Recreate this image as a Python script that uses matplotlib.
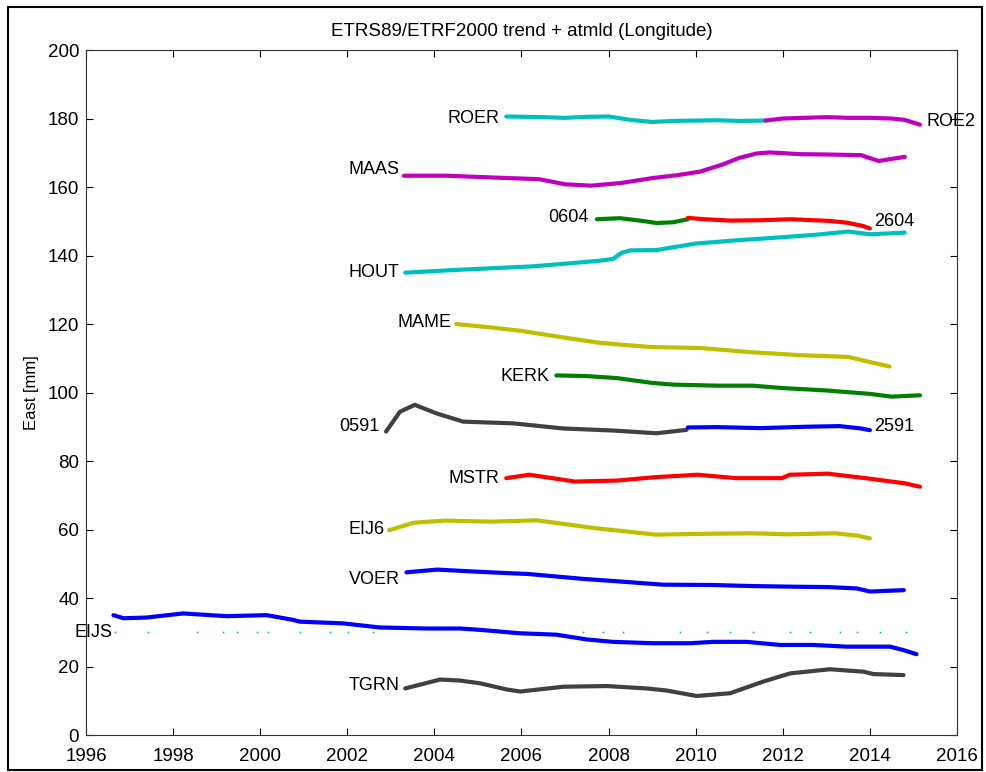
import matplotlib
matplotlib.use('Agg')
import matplotlib.pyplot as plt
from matplotlib.patches import Rectangle

# MATLAB style colour order
BLUE = '#0000ff'
GREEN = '#008000'
RED = '#ff0000'
CYAN = '#00bfbf'
MAGENTA = '#bf00bf'
OLIVE = '#bfbf00'
GREY = '#404040'

# Station series (decimal year, east in mm)

roer_t = [2005.65, 2006.5, 2007.0, 2007.5, 2008.0, 2008.5, 2009.0, 2009.5, 2010.0, 2010.5, 2011.0, 2011.6]
roer_v = [180.6, 180.4, 180.2, 180.5, 180.6, 179.6, 179.0, 179.3, 179.4, 179.5, 179.3, 179.4]

roe2_t = [2011.6, 2012.0, 2012.5, 2013.0, 2013.5, 2014.0, 2014.5, 2014.8, 2015.15]
roe2_v = [179.4, 180.0, 180.2, 180.4, 180.2, 180.2, 180.0, 179.6, 178.2]

maas_t = [2003.3, 2004.3, 2005.5, 2006.4, 2007.0, 2007.6, 2008.3, 2009.0, 2009.6, 2010.1,
          2010.6, 2011.0, 2011.4, 2011.7, 2012.4, 2013.0, 2013.8, 2014.2, 2014.8]
maas_v = [163.3, 163.3, 162.7, 162.3, 160.8, 160.4, 161.2, 162.6, 163.5, 164.5,
          166.5, 168.5, 169.8, 170.1, 169.6, 169.5, 169.3, 167.6, 168.8]

s0604_t = [2007.73, 2008.26, 2008.72, 2009.1, 2009.48, 2009.82]
s0604_v = [150.6, 150.9, 150.2, 149.5, 149.7, 150.6]

s2604_t = [2009.82, 2010.2, 2010.79, 2011.5, 2012.17, 2013.08, 2013.47, 2013.85, 2014.0]
s2604_v = [151.0, 150.6, 150.2, 150.3, 150.6, 150.1, 149.6, 148.6, 147.9]

hout_t = [2003.33, 2004.5, 2005.5, 2006.2, 2007.0, 2007.8, 2008.1, 2008.3, 2008.5, 2009.1,
          2010.0, 2011.0, 2011.6, 2012.7, 2013.5, 2014.0, 2014.8]
hout_v = [135.0, 135.8, 136.4, 136.8, 137.6, 138.5, 139.0, 140.8, 141.5, 141.6,
          143.5, 144.5, 145.0, 146.0, 147.0, 146.2, 146.7]

mame_t = [2004.5, 2005.3, 2006.0, 2006.9, 2007.8, 2008.95, 2010.1, 2011.25, 2012.4, 2013.5, 2014.0, 2014.45]
mame_v = [120.0, 119.0, 118.0, 116.2, 114.5, 113.3, 113.0, 111.8, 110.9, 110.4, 108.9, 107.6]

kerk_t = [2006.8, 2007.5, 2008.2, 2009.0, 2009.5, 2010.5, 2011.3, 2012.0, 2013.0, 2014.0, 2014.5, 2015.15]
kerk_v = [105.0, 104.8, 104.2, 102.8, 102.3, 102.0, 102.0, 101.3, 100.6, 99.6, 98.8, 99.2]

s0591_t = [2002.89, 2003.21, 2003.55, 2004.05, 2004.66, 2005.81, 2006.96, 2008.11, 2009.1, 2009.79]
s0591_v = [88.6, 94.4, 96.4, 93.9, 91.5, 91.0, 89.5, 88.9, 88.1, 89.1]

s2591_t = [2009.82, 2010.5, 2011.5, 2012.5, 2013.3, 2013.8, 2014.0]
s2591_v = [89.8, 89.9, 89.6, 90.0, 90.2, 89.5, 89.0]

mstr_t = [2005.65, 2006.18, 2007.23, 2008.2, 2009.08, 2010.05, 2010.93, 2011.98, 2012.16,
          2013.04, 2013.9, 2014.8, 2015.15]
mstr_v = [75.0, 76.0, 74.0, 74.3, 75.3, 76.0, 75.0, 75.0, 76.0, 76.3, 75.0, 73.5, 72.5]

eij6_t = [2002.96, 2003.53, 2004.24, 2005.3, 2006.35, 2006.87, 2007.75, 2008.29, 2009.08,
          2009.95, 2011.27, 2012.14, 2013.2, 2013.73, 2014.0]
eij6_v = [59.8, 62.0, 62.6, 62.3, 62.7, 61.8, 60.3, 59.6, 58.5, 58.7, 58.9, 58.6, 58.9, 58.2, 57.4]

voer_t = [2003.36, 2004.06, 2005.12, 2006.17, 2007.4, 2008.29, 2009.25, 2010.39, 2011.27,
          2012.3, 2013.04, 2013.7, 2014.0, 2014.78]
voer_v = [47.5, 48.3, 47.6, 47.0, 45.6, 44.8, 43.9, 43.8, 43.5, 43.3, 43.2, 42.8, 41.9, 42.3]

eijs_t = [1996.63, 1996.86, 1997.39, 1998.23, 1999.23, 2000.15, 2000.76, 2000.91, 2001.9,
          2002.75, 2003.82, 2004.59, 2005.05, 2005.97, 2006.8, 2007.5, 2008.1, 2009.03,
          2009.87, 2010.4, 2011.17, 2011.94, 2012.7, 2013.47, 2014.46, 2014.77, 2015.07]
eijs_v = [35.0, 34.1, 34.3, 35.5, 34.7, 35.0, 33.6, 33.1, 32.6,
          31.4, 31.1, 31.1, 30.7, 29.7, 29.3, 27.9, 27.2, 26.8,
          26.8, 27.2, 27.2, 26.3, 26.3, 25.8, 25.8, 24.8, 23.6]

# sparse outlier dots under EIJS
eijs_dots_t = [1996.67, 1997.43, 1998.54, 1999.15, 1999.46, 1999.92, 2000.19, 2000.91, 2001.6,
               2002.02, 2002.6, 2007.42, 2007.88, 2008.34, 2009.64, 2010.25, 2010.79, 2011.32,
               2012.17, 2012.62, 2013.31, 2013.7, 2014.23, 2014.84]
eijs_dots_v = [30.1] * len(eijs_dots_t)

tgrn_t = [2003.33, 2004.13, 2004.59, 2005.05, 2005.66, 2005.97, 2006.96, 2007.96, 2008.87,
          2009.33, 2010.02, 2010.79, 2011.55, 2012.17, 2013.08, 2013.85, 2014.08, 2014.77]
tgrn_v = [13.6, 16.2, 15.9, 15.1, 13.3, 12.7, 14.1, 14.3, 13.6,
          13.0, 11.4, 12.2, 15.6, 18.0, 19.2, 18.5, 17.8, 17.5]

series = [
    (roer_t, roer_v, CYAN), (roe2_t, roe2_v, MAGENTA), (maas_t, maas_v, MAGENTA),
    (s0604_t, s0604_v, GREEN), (s2604_t, s2604_v, RED), (hout_t, hout_v, CYAN),
    (mame_t, mame_v, OLIVE), (kerk_t, kerk_v, GREEN), (s0591_t, s0591_v, GREY),
    (s2591_t, s2591_v, BLUE), (mstr_t, mstr_v, RED), (eij6_t, eij6_v, OLIVE),
    (voer_t, voer_v, BLUE), (eijs_t, eijs_v, BLUE), (tgrn_t, tgrn_v, GREY),
]

# station names: (name, x, y, alignment)
labels = [
    ('ROER', 2005.5, 180.0, 'right'), ('ROE2', 2015.3, 179.0, 'left'),
    ('MAAS', 2003.2, 165.0, 'right'), ('0604', 2007.55, 151.0, 'right'),
    ('2604', 2014.1, 150.0, 'left'), ('HOUT', 2003.2, 135.0, 'right'),
    ('MAME', 2004.4, 120.3, 'right'), ('KERK', 2006.65, 104.8, 'right'),
    ('0591', 2002.75, 90.0, 'right'), ('2591', 2014.1, 90.0, 'left'),
    ('MSTR', 2005.5, 75.0, 'right'), ('EIJ6', 2002.85, 60.0, 'right'),
    ('VOER', 2003.2, 45.3, 'right'), ('EIJS', 1996.6, 30.0, 'right'),
    ('TGRN', 2003.2, 14.6, 'right'),
]

x_ticks = list(range(1996, 2017, 2))
y_ticks = list(range(0, 201, 20))

plt.rcParams['font.family'] = ['Liberation Sans', 'DejaVu Sans']

fig = plt.figure(figsize=(9.86, 7.72), dpi=100)
ax = fig.add_axes([0.0872, 0.0479, 0.8834, 0.8873])

for t, v, c in series:
    ax.plot(t, v, color=c, lw=3, solid_capstyle='round', solid_joinstyle='round')

ax.plot(eijs_dots_t, eijs_dots_v, ls='none', marker='s', ms=1.2, color=CYAN, mew=0)

for name, x, y, ha in labels:
    ax.text(x, y, name, ha=ha, va='center', fontsize=13, color='black', clip_on=False)

ax.set_xlim(1996, 2016)
ax.set_ylim(0, 200)
ax.set_xticks(x_ticks)
ax.set_yticks(y_ticks)
ax.tick_params(direction='in', length=5, width=0.8, top=True, right=True,
               labelsize=13.5)
ax.tick_params(axis='x', pad=9)
ax.tick_params(axis='y', pad=5)
for sp in ax.spines.values():
    sp.set_linewidth(0.8)
    sp.set_color('#333333')

ax.set_ylabel('East [mm]', fontsize=12, labelpad=6)
ax.set_title('ETRS89/ETRF2000 trend + atmld (Longitude)', fontsize=13.5, pad=10)

# border round the whole figure
fig.patches.append(Rectangle((0.008, 0.003), 0.988, 0.988, transform=fig.transFigure,
                             fill=False, edgecolor='black', lw=1.5))

fig.savefig('out.png', dpi=100)
